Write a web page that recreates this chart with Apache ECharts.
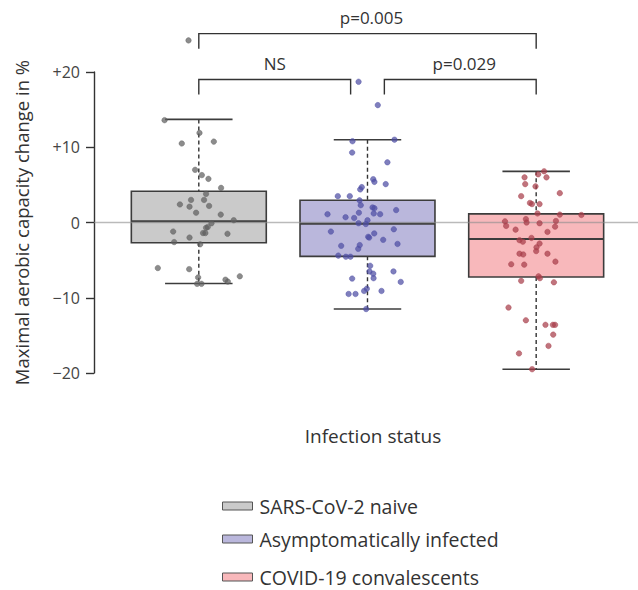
<!DOCTYPE html>
<html>
<head>
<meta charset="utf-8">
<script src="https://cdn.jsdelivr.net/npm/echarts/dist/echarts.min.js"></script>
<style>
html,body{margin:0;padding:0;background:#fff;}
#chart{width:638px;height:590px;}
</style>
</head>
<body>
<div id="chart"></div>
<script>
// ---------- data ----------
const groups = ['SARS-CoV-2 naive', 'Asymptomatically infected', 'COVID-19 convalescents'];

// box statistics: [lower whisker, Q1, median, Q3, upper whisker]
const boxNaive = [-8.1, -2.7, 0.15, 4.15, 13.7];
const boxAsymp = [-11.5, -4.5, -0.15, 2.95, 11.0];
const boxConv  = [-19.5, -7.25, -2.2, 1.15, 6.8];

// individual values
const valNaive = [24.2,13.6,11.9,10.5,10.75,7.0,6.3,5.8,4.6,3.8,3.0,3.0,2.4,2.1,2.2,1.3,1.05,0.3,-0.1,-0.6,-0.7,-1.2,-1.4,-1.4,-1.5,-2.0,-2.6,-2.9,-6.05,-6.2,-7.15,-7.3,-7.6,-7.85,-8.15,-8.15];
const valAsymp = [18.7,15.6,10.8,11.0,9.3,8.0,5.75,5.4,5.1,4.7,4.4,3.5,3.5,2.95,2.3,2.0,1.9,1.65,1.1,1.3,1.2,1.1,0.7,0.6,0.3,-0.1,-0.2,-1.2,-1.45,-0.9,-1.9,-2.0,-2.3,-2.85,-3.0,-3.5,-3.1,-4.4,-4.55,-4.55,-5.75,-6.5,-6.8,-6.5,-7.4,-7.45,-7.9,-8.8,-9.1,-9.1,-9.5,-9.5,-11.5];
const valConv  = [6.8,6.4,6.0,6.0,5.1,4.8,3.9,3.5,2.6,2.45,2.45,1.2,1.05,1.0,0.45,0.15,0.0,0.2,-0.1,-0.45,-0.55,-0.95,-1.25,-2.05,-2.35,-2.55,-2.8,-3.3,-3.8,-4.15,-4.25,-4.15,-5.2,-5.55,-5.6,-7.15,-7.4,-7.75,-7.95,-11.3,-13.0,-13.6,-13.6,-13.6,-14.9,-16.4,-17.4,-19.5];

// horizontal jitter of each point (in category units)
const jitNaive = [-0.061,-0.203,0.004,-0.101,0.089,-0.022,0.018,0.057,0.132,0.043,-0.046,0.031,-0.112,-0.055,0.061,-0.016,0.130,0.207,0.075,0.053,0.043,-0.152,0.025,0.039,0.170,-0.055,-0.146,0.008,-0.243,-0.057,0.243,-0.004,0.158,0.172,-0.010,0.016];
const jitAsymp = [-0.053,0.061,-0.089,0.160,-0.091,0.118,0.034,0.041,0.108,-0.034,-0.043,-0.176,-0.105,-0.047,-0.040,0.030,0.041,0.170,-0.237,-0.051,0.037,0.075,-0.130,-0.079,0,-0.053,-0.010,-0.217,0.040,0.156,0.004,0.010,0.093,0.178,-0.046,-0.055,-0.156,-0.173,-0.128,-0.101,0.016,0.012,0.034,0.154,0.036,-0.091,0.197,-0.004,-0.020,0.083,-0.112,-0.071,-0.008];
const jitConv  = [0.047,0.012,-0.069,0.061,-0.065,-0.004,0.140,-0.089,-0.037,-0.025,0.020,0.008,0.140,0.268,-0.061,-0.185,-0.057,0.117,0.020,-0.178,0.112,-0.122,0.067,-0.028,-0.099,-0.079,0.020,0.002,0,-0.099,-0.077,0.067,0.114,-0.148,-0.071,0.014,0.022,-0.089,0.105,-0.164,-0.061,0.055,0.099,0.112,0.101,0.073,-0.102,-0.024];

const yTickLabels = ['\u221220', '\u221210', '0', '+10', '+20'];

// pairwise comparisons: [from group, to group, bracket level, label]
const comparisons = [
  [0, 1, 0, 'NS'],
  [1, 2, 0, 'p=0.029'],
  [0, 2, 1, 'p=0.005']
];

// ---------- styling ----------
const FONT = '"Open Sans", "Noto Sans", sans-serif';
const boxFill   = ['#cacaca', '#bab7dc', '#f8b8bb'];
const pointFill = ['#5f5f5f', '#4e4ea3', '#a83f4b'];
const boxData = [boxNaive, boxAsymp, boxConv];
const valData = [valNaive, valAsymp, valConv];
const jitData = [jitNaive, jitAsymp, jitConv];

const X_MIN = -0.6213, X_MAX = 2.6036;

function renderBox(params, api) {
  const x = api.value(0);
  const low = api.value(1), q1 = api.value(2), med = api.value(3), q3 = api.value(4), high = api.value(5);
  const halfW = api.size([0.8, 0])[0] / 2;
  const capHalf = api.size([0.4, 0])[0] / 2;
  const pLow = api.coord([x, low]), pQ1 = api.coord([x, q1]), pMed = api.coord([x, med]);
  const pQ3 = api.coord([x, q3]), pHigh = api.coord([x, high]);
  const cx = pMed[0];
  const stroke = '#3c3c3c';
  const dashStyle = {stroke: '#333', lineWidth: 1.4, lineDash: [4, 3]};
  return {
    type: 'group',
    children: [
      {type: 'line', shape: {x1: cx, y1: pHigh[1], x2: cx, y2: pQ3[1]}, style: dashStyle},
      {type: 'line', shape: {x1: cx, y1: pQ1[1], x2: cx, y2: pLow[1]}, style: dashStyle},
      {type: 'line', shape: {x1: cx - capHalf, y1: pHigh[1], x2: cx + capHalf, y2: pHigh[1]}, style: {stroke: stroke, lineWidth: 1.6}},
      {type: 'line', shape: {x1: cx - capHalf, y1: pLow[1], x2: cx + capHalf, y2: pLow[1]}, style: {stroke: stroke, lineWidth: 1.6}},
      {type: 'rect', shape: {x: cx - halfW, y: pQ3[1], width: halfW * 2, height: pQ1[1] - pQ3[1]},
        style: {fill: api.visual('color'), stroke: stroke, lineWidth: 1.6}},
      {type: 'line', shape: {x1: cx - halfW, y1: pMed[1], x2: cx + halfW, y2: pMed[1]}, style: {stroke: stroke, lineWidth: 2}}
    ]
  };
}

function renderBracket(params, api) {
  const a = api.value(0), b = api.value(1), level = api.value(2);
  const label = comparisons[params.dataIndex][3];
  const topV = level === 0 ? 19.0 : 25.1;
  const legV = topV - 2.0;
  const x1 = a + (a > 0 ? 0.1 : 0);
  const x2 = b - (b - a === 1 && a === 0 ? 0.1 : 0);
  const p1 = api.coord([x1, topV]), p2 = api.coord([x2, topV]);
  const l1 = api.coord([x1, legV]);
  const tp = api.coord([(x1 + x2) / 2, topV + 2.1]);
  const st = {stroke: '#333', lineWidth: 1.4, fill: 'none'};
  return {
    type: 'group',
    children: [
      {type: 'polyline', shape: {points: [[p1[0], l1[1]], p1, p2, [p2[0], l1[1]]]}, style: st},
      {type: 'text', x: tp[0] + (label === 'NS' ? 0 : 4), y: tp[1],
        style: {text: label, textAlign: 'center', textVerticalAlign: 'middle', fill: '#333',
          font: '17px ' + FONT}}
    ]
  };
}

const series = [];
// boxes
groups.forEach((g, i) => {
  series.push({
    name: g,
    type: 'custom',
    renderItem: renderBox,
    itemStyle: {color: boxFill[i], borderColor: '#555', borderWidth: 1},
    encode: {x: 0, y: [1, 2, 3, 4, 5]},
    data: [[i].concat(boxData[i])],
    z: 2,
    silent: true
  });
});
// zero reference line
series.push({
  type: 'line',
  data: [[X_MIN, 0], [X_MAX, 0]],
  symbol: 'none',
  clip: false,
  silent: true,
  lineStyle: {color: 'rgba(140,140,140,0.6)', width: 1.6},
  z: 3
});
// jittered points
groups.forEach((g, i) => {
  series.push({
    name: g + ' points',
    type: 'scatter',
    data: valData[i].map((v, k) => [i + jitData[i][k], v]),
    symbolSize: 5.5,
    clip: false,
    silent: true,
    itemStyle: {color: pointFill[i], opacity: 0.72, borderColor: pointFill[i], borderWidth: 0.6},
    z: 4
  });
});
// significance brackets
series.push({
  type: 'custom',
  renderItem: renderBracket,
  clip: false,
  silent: true,
  encode: {x: [0, 1], y: 2},
  data: comparisons.map(c => [c[0], c[1], c[2]]),
  z: 5
});

const legendTops = [495, 528, 566];
const legends = groups.map((g, i) => ({
  show: true,
  left: 222,
  top: legendTops[i],
  orient: 'vertical',
  itemWidth: 30,
  itemHeight: 8,
  icon: 'rect',
  selectedMode: false,
  padding: 0,
  data: [{name: g, itemStyle: {color: boxFill[i], borderColor: '#555', borderWidth: 1}}],
  textStyle: {fontFamily: FONT, fontSize: 19.5, color: '#333', lineHeight: 22, padding: [0, 0, 0, 2]}
}));

const option = {
  backgroundColor: '#fff',
  animation: false,
  grid: {left: 94, right: 0, top: 72, bottom: 217, containLabel: false},
  xAxis: {
    type: 'value', min: X_MIN, max: X_MAX, show: false
  },
  yAxis: {
    type: 'value', min: -20, max: 20, interval: 10,
    name: 'Maximal aerobic capacity change in %',
    nameLocation: 'middle', nameGap: 63,
    nameTextStyle: {fontFamily: FONT, fontSize: 18.5, color: '#333'},
    axisLine: {show: true, onZero: false, lineStyle: {color: '#333', width: 1.4}},
    axisTick: {show: true, length: 8, lineStyle: {color: '#333', width: 1.4}},
    axisLabel: {
      margin: 14, fontFamily: FONT, fontSize: 16, color: '#444',
      formatter: v => yTickLabels[Math.round((v + 20) / 10)]
    },
    splitLine: {show: false}
  },
  title: {
    text: 'Infection status',
    left: 368, top: 421, textAlign: 'center',
    textStyle: {fontFamily: FONT, fontSize: 19, fontWeight: 'normal', color: '#333'}
  },
  legend: legends,
  series: series
};

const chart = echarts.init(document.getElementById('chart'), null, {renderer: 'svg'});
chart.setOption(option);
</script>
</body>
</html>
